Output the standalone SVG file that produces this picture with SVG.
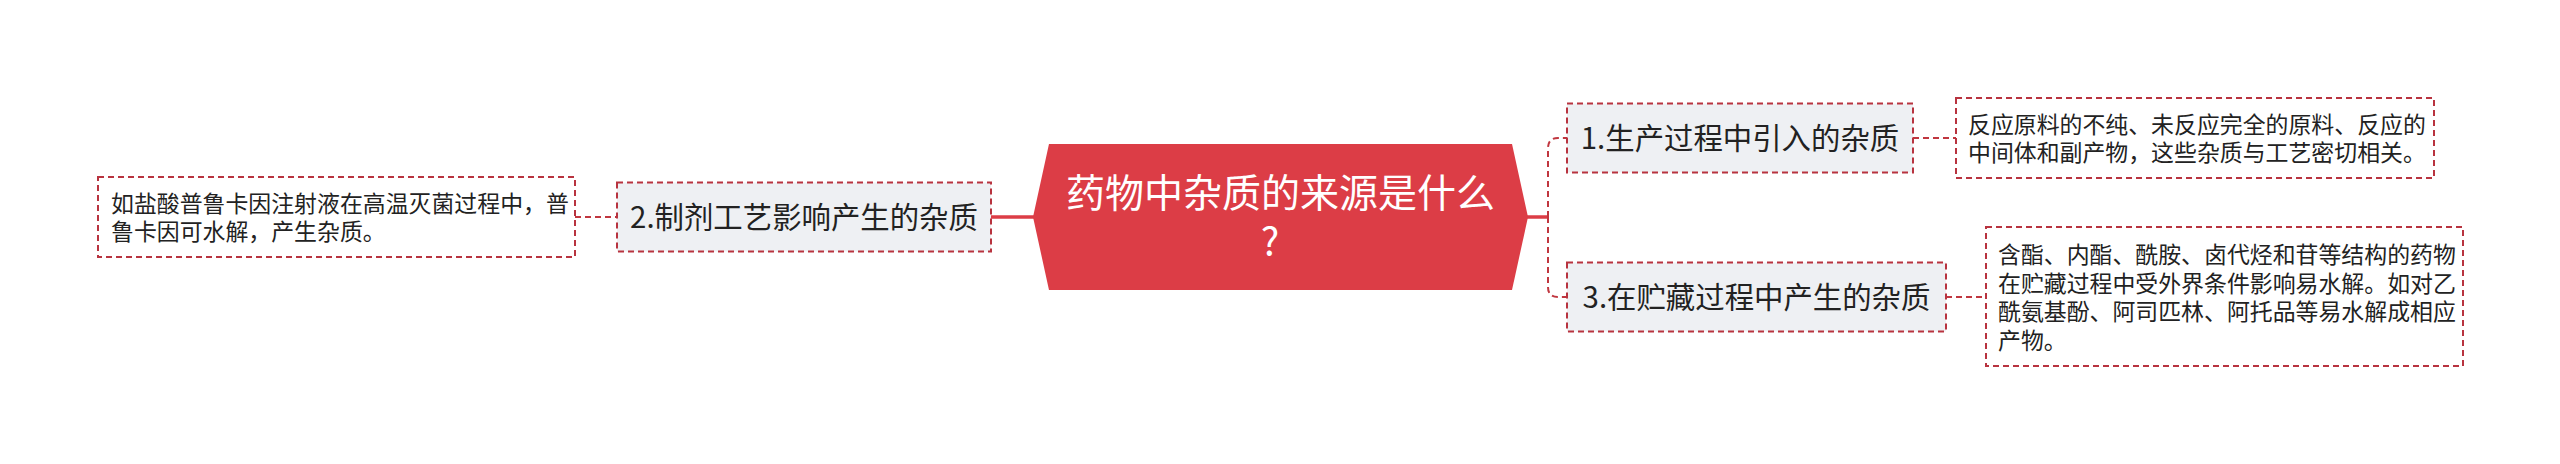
<svg xmlns="http://www.w3.org/2000/svg" width="2560" height="464" viewBox="0 0 2560 464">
<style>
.hex{fill:#dc3d46}
.box1{fill:#eef0f3;stroke:#b8333f;stroke-width:2;stroke-dasharray:6 4}
.leaf{fill:#ffffff;stroke:#b8333f;stroke-width:2;stroke-dasharray:6 4}
text{font-family:"Noto Sans CJK SC","Noto Sans",sans-serif}
.t1{font-size:29.4px;fill:#222222;text-anchor:middle}
.t2{font-size:22.9px;fill:#222222}
.tc{font-size:39px;fill:#ffffff;text-anchor:middle}
.dash{fill:none;stroke:#c0363f;stroke-width:2;stroke-dasharray:6 4}
.solid{fill:none;stroke:#dc3d46;stroke-width:3.5}
</style>
<rect width="2560" height="464" fill="#ffffff"/>
<g id="connectors">
<path class="solid" d="M991 217 H1034"/>
<path class="solid" d="M1527 217 H1548"/>
<path class="dash" d="M575 217 H617"/>
<path class="dash" d="M1548 217 V148 Q1548 138 1558 138 H1567"/>
<path class="dash" d="M1548 217 V287 Q1548 297 1558 297 H1567"/>
<path class="dash" d="M1913 138 H1956"/>
<path class="dash" d="M1946 297 H1986"/>
</g>
<g id="center">
<polygon class="hex" points="1033,217 1049,144 1512,144 1528,217 1512,290 1049,290"/>
<text class="tc" x="1280.5" y="207">药物中杂质的来源是什么</text>
<text class="tc" x="1270" y="256">?</text>
</g>
<g id="n2">
<rect class="box1" x="617" y="182.5" width="374" height="69"/>
<text class="t1" x="804" y="228">2.制剂工艺影响产生的杂质</text>
</g>
<g id="n2-leaf">
<rect class="leaf" x="98" y="177" width="477" height="80"/>
<text class="t2" x="111" y="211.5">如盐酸普鲁卡因注射液在高温灭菌过程中，普</text>
<text class="t2" x="111" y="240">鲁卡因可水解，产生杂质。</text>
</g>
<g id="n1">
<rect class="box1" x="1567" y="103.5" width="346" height="69"/>
<text class="t1" x="1740" y="149">1.生产过程中引入的杂质</text>
</g>
<g id="n1-leaf">
<rect class="leaf" x="1956" y="98" width="478" height="80"/>
<text class="t2" x="1968" y="132.5">反应原料的不纯、未反应完全的原料、反应的</text>
<text class="t2" x="1968" y="161">中间体和副产物，这些杂质与工艺密切相关。</text>
</g>
<g id="n3">
<rect class="box1" x="1567" y="262.5" width="379" height="69"/>
<text class="t1" x="1756.5" y="308">3.在贮藏过程中产生的杂质</text>
</g>
<g id="n3-leaf">
<rect class="leaf" x="1986" y="227" width="477" height="139"/>
<text class="t2" x="1998" y="263">含酯、内酯、酰胺、卤代烃和苷等结构的药物</text>
<text class="t2" x="1998" y="291.5">在贮藏过程中受外界条件影响易水解。如对乙</text>
<text class="t2" x="1998" y="320">酰氨基酚、阿司匹林、阿托品等易水解成相应</text>
<text class="t2" x="1998" y="348.5">产物。</text>
</g>
</svg>
